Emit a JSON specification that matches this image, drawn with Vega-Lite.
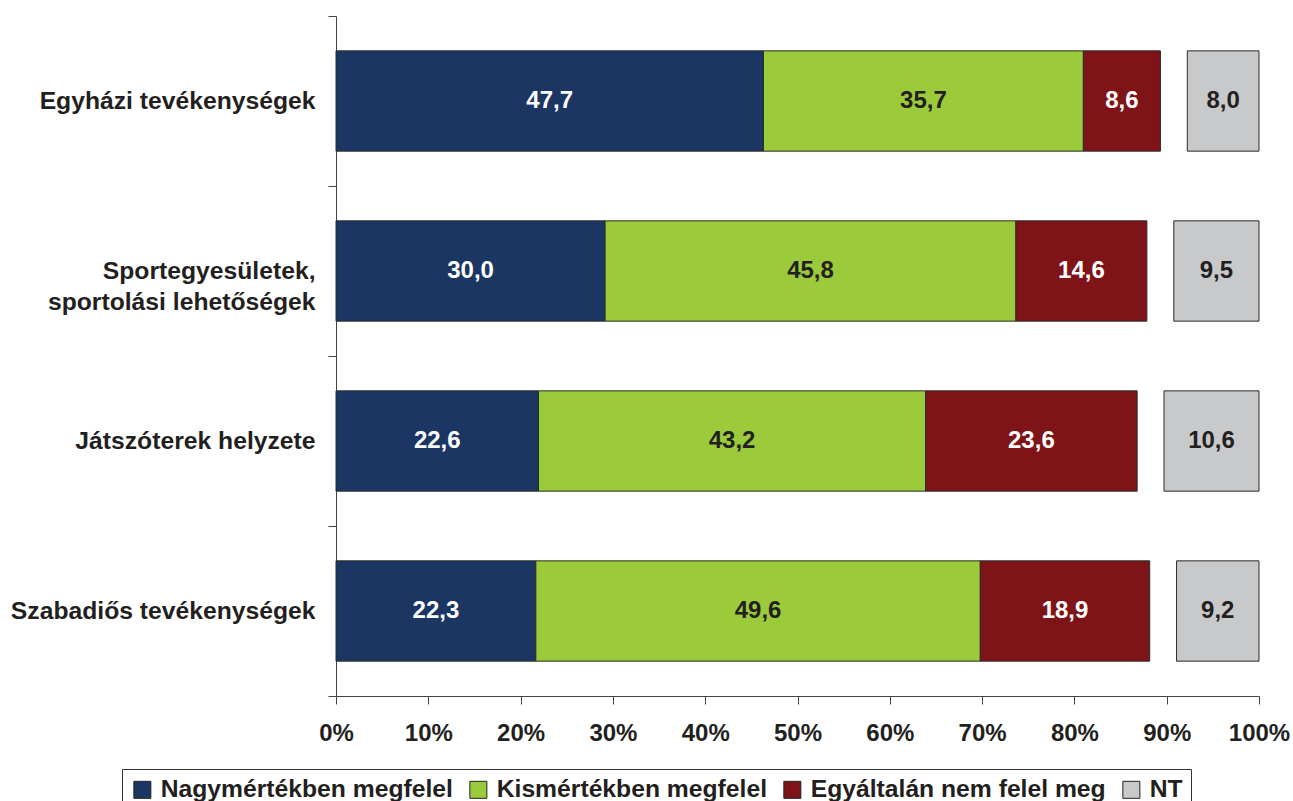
{
  "$schema": "https://vega.github.io/schema/vega-lite/v6.json",
  "width": 923,
  "height": 680,
  "autosize": {"type": "none"},
  "padding": {"left": 336, "top": 16, "right": 34, "bottom": 105},
  "background": "white",
  "config": {"font": "Liberation Sans", "view": {"stroke": null}},
  "data": {
    "values": [
      {"item": "Egyházi tevékenységek", "nagy": 47.7, "kis": 35.7, "egy": 8.6, "nt": 8.0},
      {"item": "Sportegyesületek, sportolási lehetőségek", "nagy": 30.0, "kis": 45.8, "egy": 14.6, "nt": 9.5},
      {"item": "Játszóterek helyzete", "nagy": 22.6, "kis": 43.2, "egy": 23.6, "nt": 10.6},
      {"item": "Szabadiős tevékenységek", "nagy": 22.3, "kis": 49.6, "egy": 18.9, "nt": 9.2}
    ]
  },
  "transform": [
    {"calculate": "3", "as": "gap"},
    {"fold": ["nagy", "kis", "egy", "gap", "nt"], "as": ["answer", "value"]},
    {"calculate": "indexof(['nagy','kis','egy','gap','nt'], datum.answer)", "as": "order"},
    {"stack": "value", "groupby": ["item"], "sort": [{"field": "order", "order": "ascending"}], "offset": "normalize", "as": ["x0", "x1"]},
    {"calculate": "(datum.x0 + datum.x1) / 2", "as": "mid"},
    {"calculate": "replace(format(datum.value, '.1f'), '.', ',')", "as": "label"},
    {"filter": "datum.answer != 'gap'"}
  ],
  "encoding": {
    "y": {
      "field": "item",
      "type": "nominal",
      "sort": ["Egyházi tevékenységek", "Sportegyesületek, sportolási lehetőségek", "Játszóterek helyzete", "Szabadiős tevékenységek"],
      "scale": {"paddingInner": 0, "paddingOuter": 0},
      "axis": {
        "title": null,
        "domainColor": "#444444",
        "tickColor": "#444444",
        "tickSize": 8,
        "tickBand": "extent",
        "labelFontSize": 24.7,
        "labelFontWeight": "bold",
        "labelColor": "#231f20",
        "labelPadding": 13,
        "labelLimit": 400,
        "labelLineHeight": 31,
        "labelExpr": "datum.value == 'Sportegyesületek, sportolási lehetőségek' ? ['Sportegyesületek,', 'sportolási lehetőségek'] : datum.value"
      }
    }
  },
  "layer": [
    {
      "mark": {"type": "bar", "stroke": "#2a2a2a", "strokeWidth": 1, "height": {"band": 0.59}},
      "encoding": {
        "x": {
          "field": "x0",
          "type": "quantitative",
          "scale": {"domain": [0, 1]},
          "axis": {
            "title": null,
            "values": [0, 0.1, 0.2, 0.3, 0.4, 0.5, 0.6, 0.7, 0.8, 0.9, 1],
            "format": ".0%",
            "grid": false,
            "labelFontSize": 24,
            "labelFontWeight": "bold",
            "labelColor": "#231f20",
            "labelPadding": 17,
            "labelFlush": false,
            "labelOverlap": false,
            "tickSize": 8,
            "domainColor": "#444444",
            "tickColor": "#444444"
          }
        },
        "x2": {"field": "x1"},
        "color": {
          "field": "answer",
          "type": "nominal",
          "scale": {"domain": ["nagy", "kis", "egy", "nt"], "range": ["#1c3663", "#9bcb3b", "#7e1417", "#c8c9cb"]},
          "legend": {
            "title": null,
            "orient": "none",
            "legendX": -214,
            "legendY": 753,
            "direction": "horizontal",
            "symbolType": "square",
            "symbolSize": 289,
            "symbolOpacity": 1,
            "symbolStrokeColor": "#222222",
            "symbolStrokeWidth": 1,
            "labelFontSize": 24.7,
            "labelFontWeight": "bold",
            "labelColor": "#231f20",
            "labelOffset": 6,
            "labelLimit": 500,
            "columnPadding": 13,
            "padding": 8,
            "strokeColor": "#333333",
            "labelExpr": "datum.label == 'nagy' ? 'Nagymértékben megfelel' : datum.label == 'kis' ? 'Kismértékben megfelel' : datum.label == 'egy' ? 'Egyáltalán nem felel meg' : 'NT'"
          }
        }
      }
    },
    {
      "mark": {"type": "text", "fontSize": 24, "fontWeight": "bold", "baseline": "middle", "align": "center"},
      "encoding": {
        "x": {"field": "mid", "type": "quantitative"},
        "text": {"field": "label"},
        "color": {
          "condition": {"test": "datum.answer == 'nagy' || datum.answer == 'egy'", "value": "#ffffff"},
          "value": "#231f20"
        }
      }
    }
  ]
}
